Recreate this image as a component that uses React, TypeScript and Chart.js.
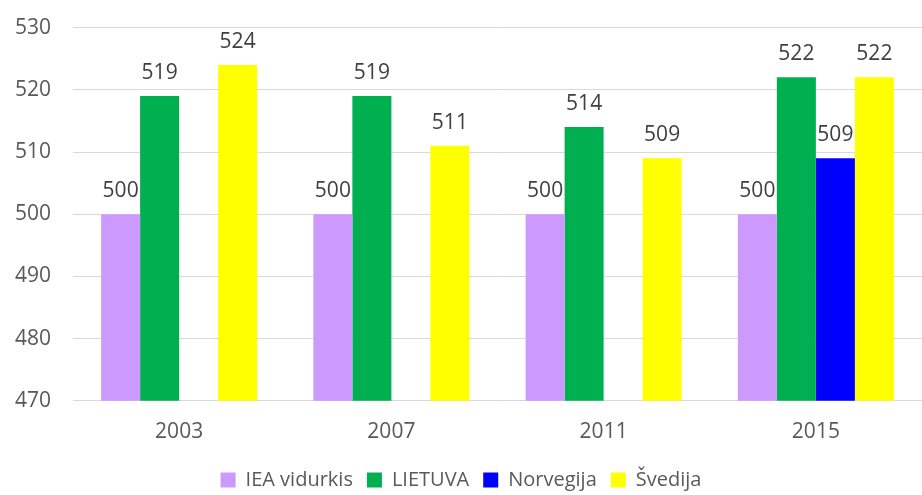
import React, { useEffect, useRef } from "react";
import { Chart, registerables } from "chart.js";

Chart.register(...registerables);

const categories = ["2003", "2007", "2011", "2015"];
const ieaValues = [500, 500, 500, 500];
const lietuvaValues = [519, 519, 514, 522];
const norvegijaValues = [null, null, null, 509];
const svedijaValues = [524, 511, 509, 522];
const yMin = 470;
const yMax = 530;
const yStep = 10;

const FONT = "'Open Sans', 'Liberation Sans', sans-serif";
const TEXT = "#595959";

const labelPlugin = {
  id: "valueLabels",
  afterDatasetsDraw(chart: any) {
    const ctx = chart.ctx;
    ctx.save();
    ctx.font = `21px ${FONT}`;
    ctx.fillStyle = "#404040";
    ctx.textAlign = "center";
    ctx.textBaseline = "alphabetic";
    chart.data.datasets.forEach((ds: any, i: number) => {
      const meta = chart.getDatasetMeta(i);
      meta.data.forEach((bar: any, j: number) => {
        const v = ds.data[j];
        if (v == null) return;
        ctx.fillText(String(v), bar.x, bar.y - 17);
      });
    });
    ctx.restore();
  },
};

export default function App() {
  const ref = useRef<HTMLCanvasElement>(null);
  useEffect(() => {
    if (!ref.current) return;
    const chart = new Chart(ref.current, {
      type: "bar",
      data: {
        labels: categories,
        datasets: [
          { label: "IEA vidurkis", data: ieaValues, backgroundColor: "#CC99FF" },
          { label: "LIETUVA", data: lietuvaValues, backgroundColor: "#00B050" },
          { label: "Norvegija", data: norvegijaValues as any, backgroundColor: "#0000FF" },
          { label: "Švedija", data: svedijaValues, backgroundColor: "#FFFF00" },
        ],
      },
      options: {
        animation: false,
        responsive: false,
        maintainAspectRatio: false,
        layout: { padding: { top: 4, right: 0, left: 0, bottom: 0 } },
        datasets: { bar: { categoryPercentage: 0.735, barPercentage: 1 } } as any,
        scales: {
          x: {
            grid: { display: false },
            border: { display: false },
            ticks: { color: TEXT, font: { family: FONT, size: 21 }, padding: 11 },
          },
          y: {
            min: yMin,
            max: yMax,
            ticks: {
              stepSize: yStep,
              color: TEXT,
              font: { family: FONT, size: 21 },
              padding: 22,
            },
            grid: { color: "#D9D9D9", lineWidth: 1, drawTicks: false },
            border: { display: false },
            afterFit: (s: any) => {
              s.width = 73;
            },
          },
        },
        plugins: {
          legend: {
            position: "bottom",
            labels: {
              color: TEXT,
              font: { family: FONT, size: 20 },
              boxWidth: 15,
              boxHeight: 15,
              padding: 14,
            },
          },
          tooltip: { enabled: false },
        },
      },
      plugins: [labelPlugin],
    });
    return () => chart.destroy();
  }, []);
  return (
    <div style={{ position: "absolute", left: 0, top: 0, width: 922, height: 495, overflow: "hidden", background: "#fff" }}>
      <canvas ref={ref} width={922} height={507} style={{ position: "absolute", left: 0, top: -7 }} />
    </div>
  );
}
